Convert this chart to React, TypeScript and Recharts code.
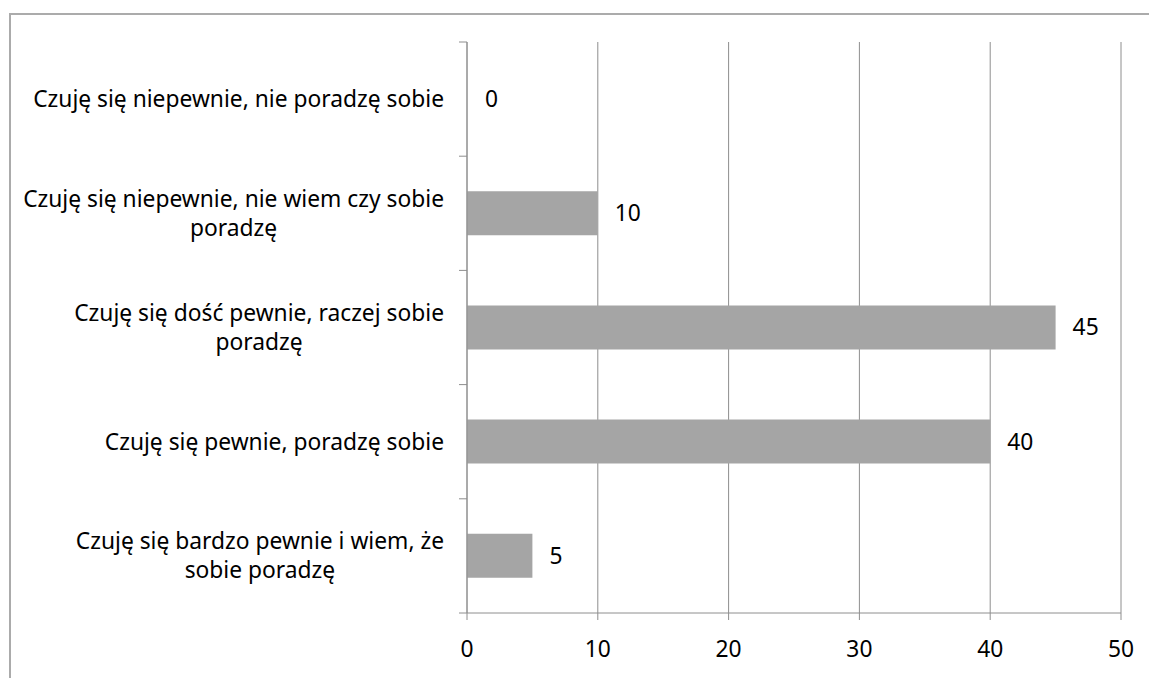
import { BarChart, Bar, XAxis, YAxis, CartesianGrid, LabelList, Cell } from 'recharts'

const categories = [
  'Czuję się niepewnie, nie poradzę sobie',
  'Czuję się niepewnie, nie wiem czy sobie poradzę',
  'Czuję się dość pewnie, raczej sobie poradzę',
  'Czuję się pewnie, poradzę sobie',
  'Czuję się bardzo pewnie i wiem, że sobie poradzę',
]
const values = [0, 10, 45, 40, 5]
const xTicks = [0, 10, 20, 30, 40, 50]

const data = categories.map((name, i) => ({ name, value: values[i] }))

const FONT = '"Noto Sans", sans-serif'
const FONT_SIZE = 22.8
const LINE_HEIGHT = 29
const MAX_CHARS = 39
const AXIS_COLOR = '#8E8E8E'
const BAR_COLOR = '#A5A5A5'

const CHART_W = 1149
const CHART_H = 678
const MARGIN = { top: 42, right: 28, left: 0, bottom: 25 }
const XAXIS_H = 40
const YAXIS_W = 467
const TICK_SIZE = 8
const TICK_MARGIN = 15
const BAND = (CHART_H - MARGIN.top - MARGIN.bottom - XAXIS_H) / categories.length

function wrap(text: string): string[] {
  const words = text.split(' ')
  const lines: string[] = []
  let cur = ''
  for (const w of words) {
    const next = cur ? cur + ' ' + w : w
    if (next.length > MAX_CHARS && cur) {
      lines.push(cur)
      cur = w
    } else {
      cur = next
    }
  }
  if (cur) lines.push(cur)
  return lines
}

let ctx: CanvasRenderingContext2D | null = null
function measure(text: string) {
  if (!ctx) ctx = document.createElement('canvas').getContext('2d')
  if (!ctx) return text.length * FONT_SIZE * 0.5
  ctx.font = `${FONT_SIZE}px "Noto Sans"`
  return ctx.measureText(text).width
}

// category label, centred lines, plus Excel-style tick marks on band boundaries
function CategoryTick({ x, y, payload, index }: any) {
  const lines = wrap(String(payload.value))
  const w = Math.max(...lines.map(measure))
  const cx = x - w / 2
  const first = -((lines.length - 1) * LINE_HEIGHT) / 2
  const axisX = x + TICK_SIZE + TICK_MARGIN
  const isLast = index === categories.length - 1
  return (
    <g>
      <line x1={axisX - TICK_SIZE} x2={axisX} y1={y - BAND / 2} y2={y - BAND / 2} stroke={AXIS_COLOR} />
      {isLast && (
        <line x1={axisX - TICK_SIZE} x2={axisX} y1={y + BAND / 2} y2={y + BAND / 2} stroke={AXIS_COLOR} />
      )}
      <text x={cx} y={y} textAnchor="middle" fill="#000" fontSize={FONT_SIZE} fontFamily={FONT}>
        {lines.map((l, i) => (
          <tspan key={i} x={cx} y={y + first + i * LINE_HEIGHT} dy="0.35em">
            {l}
          </tspan>
        ))}
      </text>
    </g>
  )
}

export default function App() {
  return (
    <div style={{ position: 'fixed', left: 0, top: 0, width: 1149, height: 678, overflow: 'hidden', background: '#fff' }}>
      <div
        style={{
          position: 'absolute',
          left: 9,
          top: 13,
          width: 1300,
          height: 800,
          border: '2px solid #ABABAB',
        }}
      />
      <div style={{ position: 'absolute', left: 0, top: 0 }}>
        <BarChart
          width={CHART_W}
          height={CHART_H}
          data={data}
          layout="vertical"
          margin={MARGIN}
          barSize={44}
        >
          <CartesianGrid horizontal={false} stroke={AXIS_COLOR} />
          <XAxis
            type="number"
            domain={[0, 50]}
            ticks={xTicks}
            height={XAXIS_H}
            tickSize={7}
            tickMargin={21}
            stroke={AXIS_COLOR}
            tick={{ fill: '#000', fontSize: FONT_SIZE, fontFamily: FONT }}
          />
          <YAxis
            type="category"
            dataKey="name"
            width={YAXIS_W}
            stroke={AXIS_COLOR}
            tickLine={false}
            tickSize={TICK_SIZE}
            tickMargin={TICK_MARGIN}
            interval={0}
            tick={<CategoryTick />}
          />
          <Bar dataKey="value" fill={BAR_COLOR} minPointSize={1} isAnimationActive={false}>
            {values.map((v, i) => (
              <Cell key={i} fill={v === 0 ? 'transparent' : BAR_COLOR} />
            ))}
            <LabelList
              dataKey="value"
              position="right"
              offset={17}
              fill="#000"
              fontSize={FONT_SIZE}
              fontFamily={FONT}
            />
          </Bar>
        </BarChart>
      </div>
    </div>
  )
}
